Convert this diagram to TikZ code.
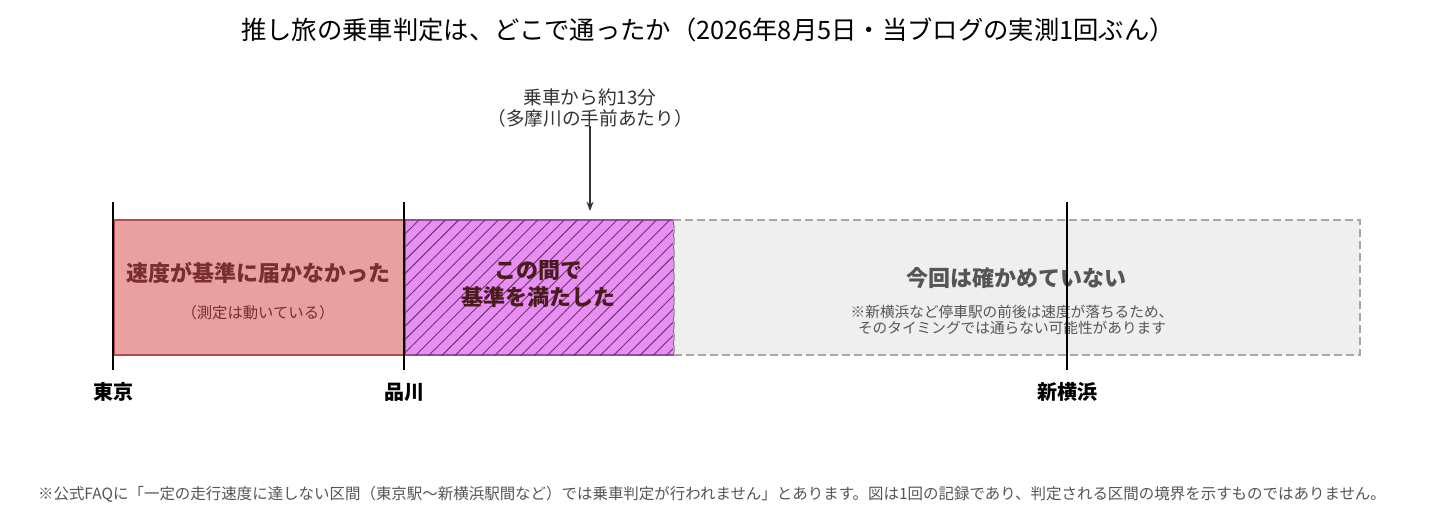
\documentclass[tikz,border=0pt]{standalone}
\usepackage{fontspec}
\setmainfont{Noto Sans CJK JP}
\usetikzlibrary{positioning,patterns.meta,arrows.meta}
\definecolor{redfill}{HTML}{E8A0A0}
\definecolor{redline}{HTML}{B24E4E}
\definecolor{redtext}{HTML}{7A2E2E}
\definecolor{violetfill}{HTML}{E98EF2}
\definecolor{violetline}{HTML}{93509E}
\definecolor{greyfill}{HTML}{EFEFEF}
\definecolor{greyline}{HTML}{A6A6A6}
\definecolor{greytext}{HTML}{555555}
\begin{document}
\begin{tikzpicture}[x=0.75pt,y=-0.75pt]
  \tikzstyle{seg} = [inner sep=0pt,anchor=north west,line width=1.5pt]
  \tikzstyle{head} = [font=\bfseries\fontsize{16.5}{20}\selectfont,align=center]
  \tikzstyle{sub} = [font=\fontsize{11.5}{14}\selectfont,align=center]
  \tikzstyle{stn} = [font=\bfseries\fontsize{15}{17}\selectfont]
  \tikzstyle{tick} = [line width=1.2pt,black]
  \useasboundingbox (0,0) rectangle (1430,507);
  \fill[white] (0,0) rectangle (1430,507);

  % title
  \node[font=\fontsize{19}{22}\selectfont] (title) at (708,30) {推し旅の乗車判定は、どこで通ったか（2026年8月5日・当ブログの実測1回ぶん）};

  % segments
  \node[seg,fill=redfill,draw=redline,minimum width=291*0.75pt,minimum height=135*0.75pt] (R) at (113,219) {};
  \node[seg,fill=violetfill,draw=violetline,minimum width=269*0.75pt,minimum height=135*0.75pt,
        postaction={pattern={Lines[angle=45,distance=7pt,line width=0.7pt]},pattern color=violetline!70!black}] (V) at (404,219) {};
  \node[seg,fill=greyfill,draw=greyline,dashed,dash pattern=on 6pt off 3pt,minimum width=686*0.75pt,minimum height=135*0.75pt] (G) at (673,219) {};

  \node[head,text=redtext] (Rt) at (258,273) {速度が基準に届かなかった};
  \node[sub,text=redtext] (Rs) at (258,313) {（測定は動いている）};
  \node[head,text=redtext!60!black] (Vt) at (538,284) {この間で\\基準を満たした};
  \node[head,text=greytext] (Gt) at (1016,278) {今回は確かめていない};
  \node[sub,text=greytext,font=\fontsize{11}{12.5}\selectfont] (Gs) at (1012,320) {※新横浜など停車駅の前後は速度が落ちるため、\\そのタイミングでは通らない可能性があります};

  % stations
  \foreach \x/\n/\lab in {113/tokyo/東京,404/shina/品川,1067/yoko/新横浜}{
    \coordinate (\n top) at (\x,202);
    \coordinate (\n bot) at (\x,370);
    \draw[tick] (\n top) -- (\n bot);
    \node[stn] (\n) at (\x,392) {\lab};
  }

  % marker
  \node[font=\fontsize{14}{16}\selectfont,text=black!80,align=center] (mark) at (590,108) {乗車から約13分\\（多摩川の手前あたり）};
  \coordinate (markend) at (590,211);
  \draw[-{Stealth[length=7pt]},line width=1pt,black!80] (mark.south) ++(0,-6) -- (markend);

  % note
  \node[font=\fontsize{11.6}{14}\selectfont,text=greytext] (note) at (712,494) {※公式FAQに「一定の走行速度に達しない区間（東京駅〜新横浜駅間など）では乗車判定が行われません」とあります。図は1回の記録であり、判定される区間の境界を示すものではありません。};
\end{tikzpicture}
\end{document}
